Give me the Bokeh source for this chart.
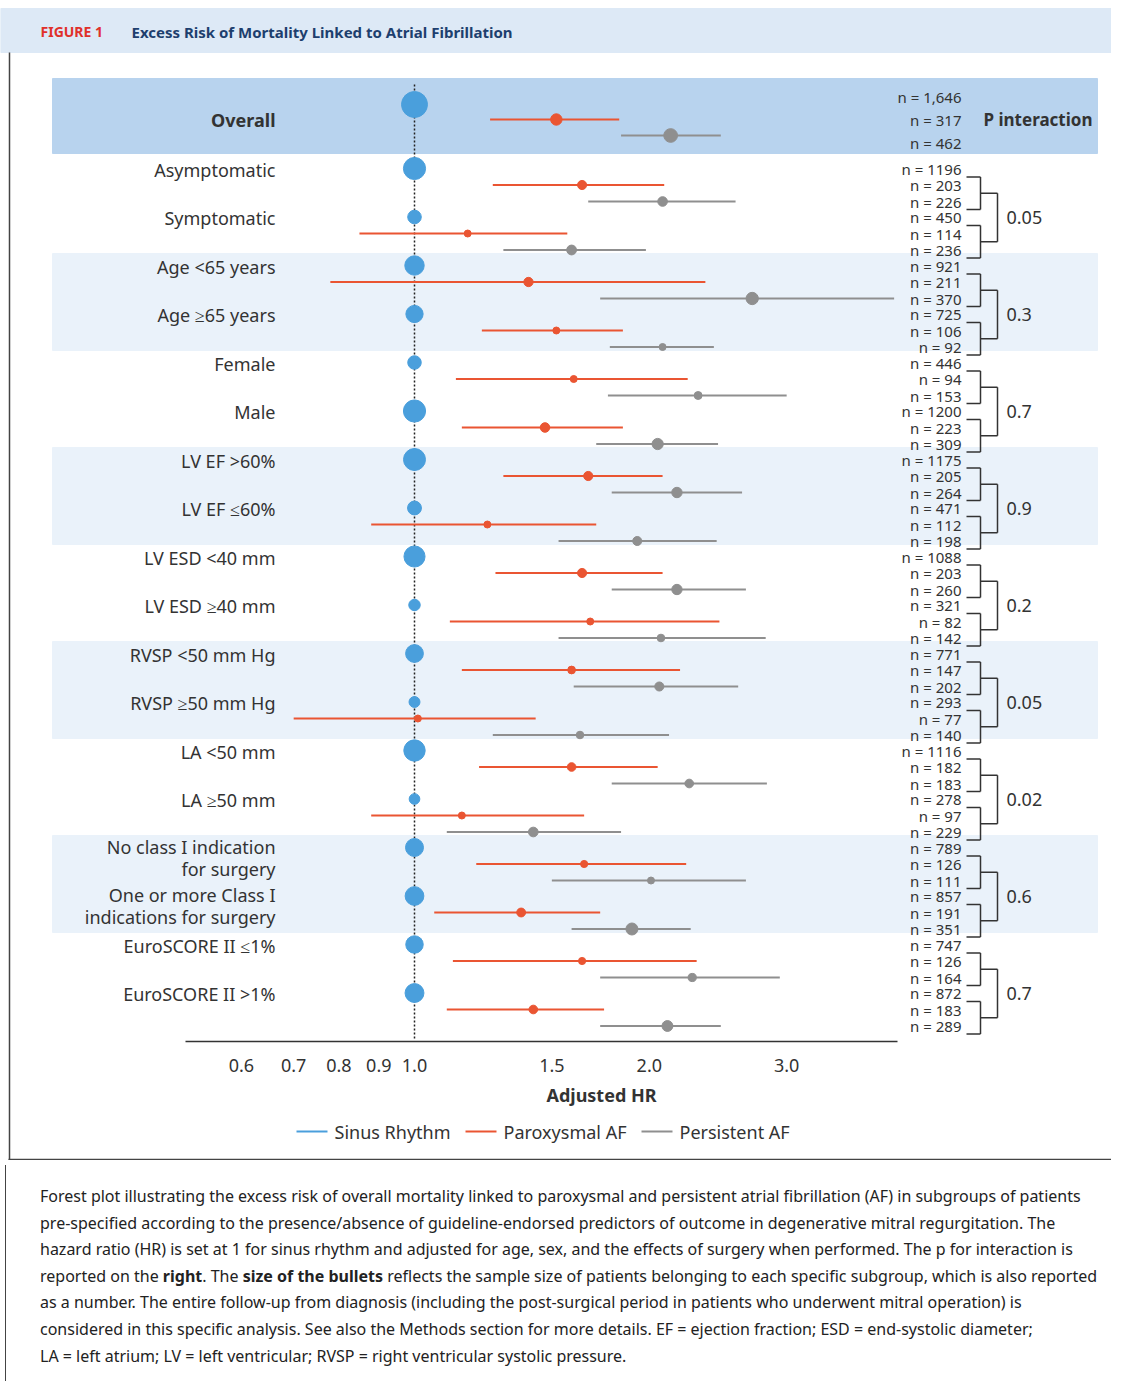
from bokeh.plotting import figure
from bokeh.models import Range1d, Div
from bokeh.layouts import column
from bokeh.core.properties import value
from bokeh.embed import file_html
from bokeh.resources import INLINE

FONT = "Noto Sans"

# ---- data ----
groups = ["Asymptomatic", "Symptomatic", "Age <65 years", "Age \u226565 years",
          "Female", "Male", "LV EF >60%", "LV EF \u226460%", "LV ESD <40 mm",
          "LV ESD \u226540 mm", "RVSP <50 mm Hg", "RVSP \u226550 mm Hg",
          "LA <50 mm", "LA \u226550 mm", "No class I indication\nfor surgery",
          "One or more Class I\nindications for surgery", "EuroSCORE II \u22641%",
          "EuroSCORE II >1%"]
n_sr = [1196, 450, 921, 725, 446, 1200, 1175, 471, 1088, 321, 771, 293, 1116, 278, 789, 857, 747, 872]
n_paf = [203, 114, 211, 106, 94, 223, 205, 112, 203, 82, 147, 77, 182, 97, 126, 191, 126, 183]
n_pers = [226, 236, 370, 92, 153, 309, 264, 198, 260, 142, 202, 140, 183, 229, 111, 351, 164, 289]
paf_hr = [1.64, 1.17, 1.40, 1.52, 1.60, 1.47, 1.67, 1.24, 1.64, 1.68, 1.59, 1.01, 1.59, 1.15, 1.65, 1.37, 1.64, 1.42]
paf_lo = [1.26, 0.85, 0.78, 1.22, 1.13, 1.15, 1.30, 0.88, 1.27, 1.11, 1.15, 0.70, 1.21, 0.88, 1.20, 1.06, 1.12, 1.10]
paf_hi = [2.09, 1.57, 2.36, 1.85, 2.24, 1.85, 2.08, 1.71, 2.08, 2.46, 2.19, 1.43, 2.05, 1.65, 2.23, 1.73, 2.30, 1.75]
pers_hr = [2.08, 1.59, 2.71, 2.08, 2.31, 2.05, 2.17, 1.93, 2.17, 2.07, 2.06, 1.63, 2.25, 1.42, 2.01, 1.90, 2.27, 2.11]
pers_lo = [1.67, 1.30, 1.73, 1.78, 1.77, 1.71, 1.79, 1.53, 1.79, 1.53, 1.60, 1.26, 1.79, 1.10, 1.50, 1.59, 1.73, 1.73]
pers_hi = [2.58, 1.98, 4.12, 2.42, 3.00, 2.45, 2.63, 2.44, 2.66, 2.82, 2.60, 2.12, 2.83, 1.84, 2.66, 2.26, 2.94, 2.47]
p_inter = ["0.05", "0.3", "0.7", "0.9", "0.2", "0.05", "0.02", "0.6", "0.7"]

overall_n = [1646, 317, 462]
overall_paf = (1.52, 1.25, 1.83)
overall_pers = (2.13, 1.84, 2.47)

ticks = [0.6, 0.7, 0.8, 0.9, 1.0, 1.5, 2.0, 3.0]
tick_labels = ["0.6", "0.7", "0.8", "0.9", "1.0", "1.5", "2.0", "3.0"]

SR_C, PAF_C, PERS_C = "#4a9fdc", "#ea5532", "#8f8f8f"
TXT = "#333333"


def hx(px):
    # page pixel -> HR on log axis (1.0 at px 414, 780 px per decade)
    return 10 ** ((px - 414) / 780)


def size(n):
    return max(7, 0.64 * n ** 0.5)


p = figure(width=1111, height=1160, x_axis_type="log",
           x_range=Range1d(hx(0), hx(1111)), y_range=Range1d(1160, 0),
           output_backend="svg", toolbar_location=None, min_border=0)
p.axis.visible = False
p.grid.visible = False
p.outline_line_color = None

# header
p.quad(left=hx(0), right=hx(1111), top=8, bottom=52, color="#dde9f6")
p.text(x=[hx(40)], y=[31], text=["FIGURE 1"], text_font=value(FONT), text_font_style="bold",
       text_font_size="14px", text_color="#e0302a", text_baseline="middle")
p.text(x=[hx(131)], y=[31], text=["Excess Risk of Mortality Linked to Atrial Fibrillation"],
       text_font=value(FONT), text_font_style="bold", text_font_size="15px",
       text_color="#1d3f6e", text_baseline="middle")
# frame
p.segment(x0=[hx(9), hx(8)], y0=[52, 1159], x1=[hx(9), hx(1111)], y1=[1160, 1159],
          line_color="#444444", line_width=1.5)

# bands
p.quad(left=hx(52), right=hx(1097), top=78, bottom=153, color="#b8d3ee")
for k in [1, 3, 5, 7]:
    top = 168 + 2 * k * 48.5 - 12
    p.quad(left=hx(52), right=hx(1097), top=top, bottom=top + 97, color="#eaf2fa")

# reference line
p.line(x=[1.0, 1.0], y=[84, 1040], line_color="#222222", line_dash="2 2", line_width=1.5)

rows_y = []
for k in range(len(groups)):
    base = 168 + k * 48.5
    rows_y.append((base, base + 16.5, base + 33))

# overall
oy = (104, 119, 135)
p.text(x=[hx(275)], y=[119], text=["Overall"], text_font=value(FONT), text_font_size="18px",
       text_color=TXT, text_align="right", text_baseline="middle", text_font_style="bold")
p.segment(x0=[overall_paf[1], overall_pers[1]], x1=[overall_paf[2], overall_pers[2]],
          y0=[oy[1], oy[2]], y1=[oy[1], oy[2]], line_color=[PAF_C, PERS_C], line_width=2)
p.scatter(x=[1.0, overall_paf[0], overall_pers[0]], y=list(oy),
          size=[size(n) for n in overall_n], color=[SR_C, PAF_C, PERS_C])
p.text(x=[hx(961)] * 3, y=[96, 119, 142], text=[f"n = {n:,}" for n in overall_n], text_font=value(FONT),
       text_font_size="15px", text_color=TXT, text_align="right", text_baseline="middle")
p.text(x=[hx(1092)], y=[119], text=["P interaction"], text_font=value(FONT), text_font_size="17px",
       text_color=TXT, text_align="right", text_baseline="middle", text_font_style="bold")

# subgroup rows
for k, g in enumerate(groups):
    y0, y1, y2 = rows_y[k]
    lines = g.split("\n")
    if len(lines) == 1:
        p.text(x=[hx(275)], y=[y0 + 1], text=[g], text_font=value(FONT), text_font_size="18px",
               text_color=TXT, text_align="right", text_baseline="middle")
    else:
        p.text(x=[hx(275)] * 2, y=[y0 - 1, y0 + 21], text=lines, text_font=value(FONT),
               text_font_size="18px", text_color=TXT, text_align="right", text_baseline="middle")
    p.segment(x0=[paf_lo[k], pers_lo[k]], x1=[paf_hi[k], pers_hi[k]], y0=[y1, y2], y1=[y1, y2],
              line_color=[PAF_C, PERS_C], line_width=2)
    p.scatter(x=[1.0, paf_hr[k], pers_hr[k]], y=[y0, y1, y2],
              size=[size(n_sr[k]), size(n_paf[k]), size(n_pers[k])], color=[SR_C, PAF_C, PERS_C])
    p.text(x=[hx(961)] * 3, y=[y0, y1, y2],
           text=[f"n = {n_sr[k]}", f"n = {n_paf[k]}", f"n = {n_pers[k]}"], text_font=value(FONT),
           text_font_size="15px", text_color=TXT, text_align="right", text_baseline="middle")
    # inner bracket
    p.segment(x0=[hx(966), hx(966), hx(980), hx(980)], x1=[hx(980), hx(980), hx(980), hx(997)],
              y0=[y1 - 8, y2 + 8, y1 - 8, (y1 + y2) / 2], y1=[y1 - 8, y2 + 8, y2 + 8, (y1 + y2) / 2],
              line_color="#333333", line_width=1.5)

for i, pv in enumerate(p_inter):
    a = rows_y[2 * i]
    b = rows_y[2 * i + 1]
    ma, mb = (a[1] + a[2]) / 2, (b[1] + b[2]) / 2
    p.segment(x0=[hx(997)], x1=[hx(997)], y0=[ma], y1=[mb], line_color="#333333", line_width=1.5)
    p.text(x=[hx(1006)], y=[(ma + mb) / 2], text=[pv], text_font=value(FONT), text_font_size="18px",
           text_color=TXT, text_baseline="middle")

# axis
p.segment(x0=[hx(185)], x1=[hx(897)], y0=[1041], y1=[1041], line_color="#333333", line_width=1.5)
p.text(x=ticks, y=[1065] * len(ticks), text=tick_labels, text_font=value(FONT), text_font_size="18px",
       text_color=TXT, text_align="center", text_baseline="middle")
p.text(x=[hx(601)], y=[1094], text=["Adjusted HR"], text_font=value(FONT), text_font_size="18px",
       text_color=TXT, text_align="center", text_baseline="middle", text_font_style="bold")

# legend
leg = [("Sinus Rhythm", SR_C, 296), ("Paroxysmal AF", PAF_C, 465), ("Persistent AF", PERS_C, 641)]
for name, c, x in leg:
    p.segment(x0=[hx(x)], x1=[hx(x + 31)], y0=[1131], y1=[1131], line_color=c, line_width=2)
    p.text(x=[hx(x + 38)], y=[1131], text=[name], text_font=value(FONT), text_font_size="18px",
           text_color=TXT, text_baseline="middle")

caption = (
    "Forest plot illustrating the excess risk of overall mortality linked to paroxysmal and persistent atrial fibrillation (AF) in subgroups of patients<br>"
    "pre-specified according to the presence/absence of guideline-endorsed predictors of outcome in degenerative mitral regurgitation. The<br>"
    "hazard ratio (HR) is set at 1 for sinus rhythm and adjusted for age, sex, and the effects of surgery when performed. The p for interaction is<br>"
    "reported on the <b>right</b>. The <b>size of the bullets</b> reflects the sample size of patients belonging to each specific subgroup, which is also reported<br>"
    "as a number. The entire follow-up from diagnosis (including the post-surgical period in patients who underwent mitral operation) is<br>"
    "considered in this specific analysis. See also the Methods section for more details. EF = ejection fraction; ESD = end-systolic diameter;<br>"
    "LA = left atrium; LV = left ventricular; RVSP = right ventricular systolic pressure."
)
div = Div(text=caption, width=1111, height=216,
          styles={"font-family": FONT, "font-size": "16px", "line-height": "26.6px", "color": "#222",
                  "padding": "18px 0 0 34px", "border-left": "1.5px solid #444", "box-sizing": "border-box",
                  "white-space": "nowrap"})

layout = column(p, div, spacing=0)
open("out.html", "w").write(file_html(layout, INLINE))
